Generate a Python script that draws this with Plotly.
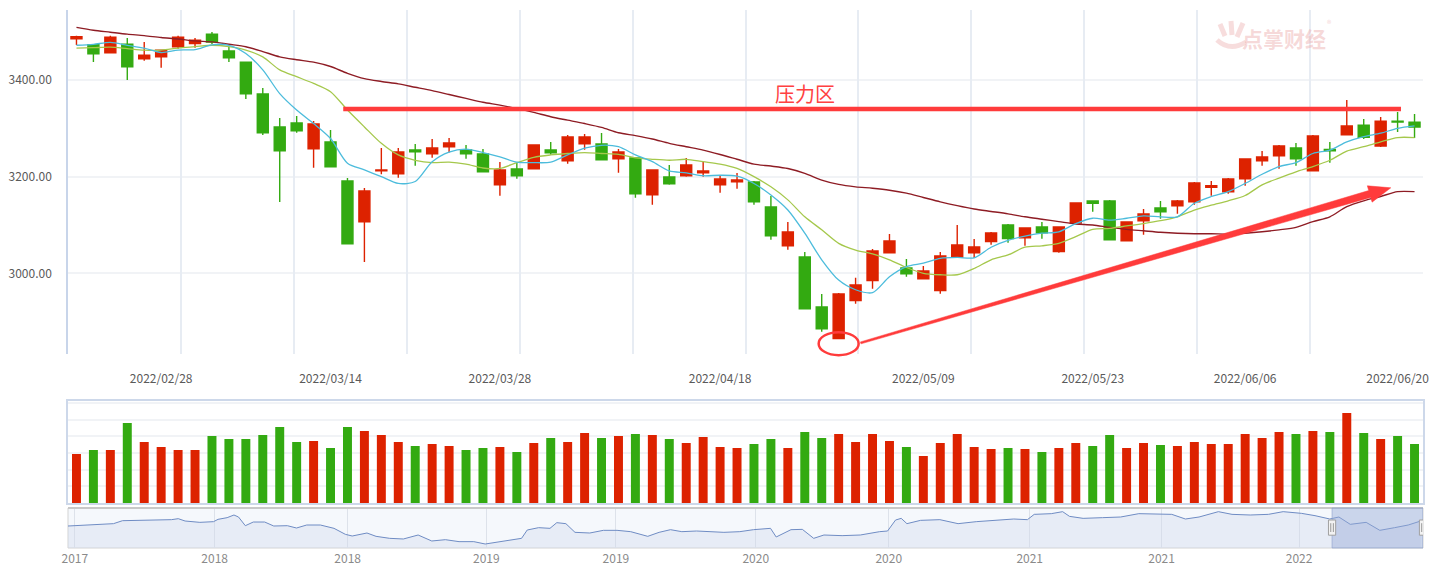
import plotly.graph_objects as go

# ---------------- data ----------------
open_ = [3485.5, 3473.1, 3456.5, 3474.4, 3444.1, 3448.2, 3468.9, 3475.8, 3495.1, 3460.0,
         3437.2, 3371.0, 3302.7, 3311.0, 3257.9, 3271.7, 3191.0, 3106.8, 3212.4, 3206.2,
         3255.1, 3247.5, 3262.0, 3255.1, 3246.8, 3183.4, 3215.8, 3216.5, 3255.1, 3233.1,
         3268.2, 3267.5, 3237.2, 3238.6, 3162.7, 3199.3, 3202.0, 3208.2, 3183.4, 3189.6,
         3188.9, 3137.2, 3057.2, 3033.7, 2930.3, 2864.8, 2943.4, 2984.8, 3042.7, 3011.0,
         2988.9, 2964.1, 3033.7, 3042.7, 3065.5, 3099.9, 3073.7, 3095.8, 3044.8, 3104.1,
         3149.6, 3149.6, 3067.5, 3108.9, 3135.1, 3139.9, 3148.2, 3177.9, 3168.9, 3195.8,
         3233.1, 3243.4, 3259.3, 3212.4, 3256.5, 3286.8, 3306.8, 3263.4, 3315.1, 3313.0]
high = [3491.7, 3474.4, 3491.7, 3486.9, 3478.6, 3463.4, 3491.7, 3486.9, 3499.3, 3468.9,
        3438.6, 3383.4, 3321.3, 3325.5, 3315.1, 3296.5, 3197.2, 3176.5, 3259.3, 3259.3,
        3267.5, 3277.9, 3280.0, 3265.5, 3257.2, 3230.3, 3228.9, 3265.5, 3271.7, 3286.2,
        3288.2, 3290.3, 3257.2, 3238.6, 3213.7, 3224.1, 3238.6, 3230.3, 3203.4, 3207.5,
        3191.0, 3160.0, 3106.1, 3044.1, 2957.2, 2959.2, 2991.0, 3050.3, 3081.3, 3029.6,
        3015.1, 3044.1, 3099.9, 3071.0, 3085.5, 3102.0, 3093.7, 3106.1, 3095.8, 3145.5,
        3149.6, 3151.7, 3106.1, 3133.0, 3149.6, 3151.7, 3188.9, 3191.0, 3197.2, 3236.5,
        3253.0, 3265.5, 3269.6, 3286.2, 3271.7, 3358.6, 3319.3, 3323.4, 3333.7, 3329.6]
low = [3472.4, 3437.2, 3456.5, 3400.0, 3440.0, 3425.5, 3464.8, 3466.9, 3474.4, 3437.2,
       3360.6, 3286.2, 3147.5, 3291.0, 3218.6, 3220.6, 3061.3, 3023.4, 3204.8, 3197.9,
       3222.7, 3239.3, 3250.3, 3237.2, 3210.3, 3160.6, 3195.8, 3216.5, 3245.5, 3226.8,
       3255.8, 3235.1, 3208.2, 3156.5, 3142.0, 3183.4, 3199.9, 3199.9, 3166.8, 3175.1,
       3142.0, 3069.6, 3048.9, 2926.8, 2879.2, 2864.8, 2937.2, 2968.2, 3042.7, 2993.0,
       2988.9, 2957.9, 3033.7, 3031.7, 3059.3, 3063.4, 3057.2, 3071.7, 3042.7, 3104.1,
       3127.5, 3069.6, 3067.5, 3080.0, 3113.0, 3123.4, 3142.0, 3160.6, 3164.8, 3181.3,
       3222.7, 3216.5, 3222.7, 3212.4, 3228.9, 3286.8, 3277.9, 3261.3, 3292.4, 3280.0]
close = [3489.6, 3454.4, 3488.9, 3427.5, 3451.7, 3462.0, 3488.9, 3482.7, 3478.6, 3446.2,
         3371.7, 3291.0, 3253.8, 3295.1, 3308.9, 3220.6, 3061.3, 3170.3, 3213.7, 3251.0,
         3251.7, 3259.3, 3269.6, 3247.5, 3210.3, 3213.7, 3202.0, 3265.5, 3249.6, 3282.0,
         3282.0, 3235.1, 3251.0, 3164.8, 3213.7, 3185.5, 3224.1, 3211.7, 3195.1, 3193.0,
         3148.2, 3077.9, 3085.5, 2926.8, 2885.4, 2957.2, 2975.8, 3046.1, 3066.8, 2999.2,
         3004.8, 3035.8, 3058.6, 3054.4, 3083.4, 3071.7, 3093.7, 3084.1, 3095.8, 3145.5,
         3144.8, 3069.6, 3106.1, 3122.7, 3127.5, 3149.6, 3186.8, 3181.3, 3195.1, 3236.5,
         3240.6, 3263.4, 3237.2, 3284.1, 3253.8, 3304.8, 3281.3, 3315.1, 3313.0, 3302.7]
ma5 = [3472, 3474, 3478, 3472, 3466, 3457, 3462, 3463, 3473, 3472,
       3455, 3421, 3372, 3338, 3310, 3279, 3228, 3214, 3200, 3186,
       3190, 3231, 3251, 3257, 3250, 3241, 3230, 3229, 3230, 3245,
       3259, 3265, 3262, 3245, 3231, 3212, 3208, 3202, 3203, 3201,
       3186, 3162, 3131, 3083, 3028, 2986, 2966, 2960, 2993, 3014,
       3021, 3031, 3033, 3032, 3054, 3068, 3077, 3083, 3086, 3103,
       3114, 3110, 3114, 3119, 3117, 3117, 3145, 3159, 3169, 3186,
       3205, 3221, 3229, 3248, 3255, 3272, 3283, 3290, 3300, 3305]
ma10 = [3466, 3467, 3468, 3465, 3462, 3462, 3466, 3469, 3472, 3469,
        3462, 3448, 3421, 3407, 3393, 3376, 3338, 3303, 3269, 3245,
        3234, 3229, 3230, 3226, 3218, 3217, 3229, 3240, 3245, 3248,
        3250, 3248, 3246, 3239, 3236, 3234, 3236, 3231, 3226, 3217,
        3200, 3179, 3152, 3117, 3090, 3062, 3048, 3040, 3028, 3012,
        3000, 2997, 2997, 3010, 3028, 3038, 3054, 3057, 3062, 3076,
        3091, 3093, 3098, 3103, 3109, 3117, 3131, 3141, 3150, 3161,
        3183, 3197, 3210, 3221, 3234, 3253, 3262, 3272, 3281, 3281]
ma60 = [3509, 3503, 3499, 3495, 3492, 3488, 3485, 3481, 3479, 3474,
        3469, 3459, 3448, 3442, 3437, 3428, 3414, 3403, 3397, 3392,
        3385, 3378, 3370, 3362, 3354, 3348, 3341, 3333, 3324, 3317,
        3310, 3302, 3291, 3285, 3278, 3269, 3262, 3255, 3246, 3236,
        3226, 3222, 3217, 3207, 3193, 3184, 3179, 3176, 3172, 3166,
        3157, 3148, 3140, 3133, 3128, 3123, 3117, 3112, 3107, 3102,
        3100, 3095, 3091, 3088, 3085, 3083, 3082, 3082, 3081, 3083,
        3086, 3090, 3095, 3107, 3117, 3138, 3150, 3159, 3169, 3169]
volume = [2940, 3180, 3180, 4800, 3660, 3360, 3180, 3180, 4020, 3840,
          3840, 4080, 4560, 3660, 3720, 3300, 4560, 4320, 4080, 3660,
          3420, 3540, 3420, 3180, 3300, 3360, 3060, 3600, 3900, 3660,
          4200, 3900, 4020, 4140, 4080, 3840, 3600, 3960, 3360, 3300,
          3540, 3840, 3300, 4260, 3900, 4140, 3660, 4140, 3720, 3360,
          2820, 3600, 4140, 3360, 3240, 3300, 3240, 3060, 3300, 3600,
          3420, 4080, 3300, 3600, 3480, 3420, 3660, 3540, 3540, 4140,
          3900, 4260, 4140, 4320, 4260, 5400, 4200, 3840, 4020, 3540]
tick_idx = [5, 15, 25, 38, 50, 60, 69, 78]
tick_labels = ['2022/02/28', '2022/03/14', '2022/03/28', '2022/04/18',
               '2022/05/09', '2022/05/23', '2022/06/06', '2022/06/20']

# overview (data-zoom) series: trading-day index and close
nav_idx = [0, 14, 30, 40, 48, 63, 71, 79, 91, 97, 103, 116, 128, 132, 140, 146, 150, 156, 163,
           173, 181, 193, 201, 210, 222, 234, 244, 250, 263, 271, 283, 295, 308, 320, 332, 344,
           357, 367, 377, 389, 399, 404, 414, 424, 430, 438, 446, 459, 471, 483, 495, 510, 520,
           530, 540, 553, 565, 577, 591, 603, 618, 623, 636, 646, 656, 665, 681, 697, 714, 721,
           728, 733, 738, 750, 767, 783, 799, 816, 832, 844, 850, 865, 875, 881, 893, 910, 926,
           942, 958, 971, 983, 995, 1012, 1024, 1040, 1056, 1069, 1085, 1097, 1110, 1118, 1128,
           1142, 1154, 1167, 1179, 1190]
nav_close = [3152, 3192, 3245, 3245, 3363, 3376, 3363, 3389, 3403, 3442, 3350, 3297, 3324, 3416,
             3482, 3587, 3508, 3165, 3310, 3310, 3152, 3165, 3073, 3192, 3192, 3060, 2823, 2757,
             2876, 2744, 2665, 2639, 2797, 2560, 2612, 2534, 2534, 2441, 2520, 2586, 2665, 2994,
             3087, 3060, 3284, 3245, 2902, 2876, 2981, 2981, 2929, 2744, 2902, 3007, 2929, 2955,
             2929, 2902, 2929, 3007, 3060, 2718, 3007, 3020, 2665, 2797, 2771, 2797, 2929, 2955,
             3389, 3455, 3245, 3376, 3403, 3245, 3324, 3376, 3429, 3403, 3613, 3640, 3719, 3534,
             3455, 3482, 3508, 3640, 3613, 3613, 3429, 3508, 3719, 3613, 3587, 3613, 3719, 3653,
             3561, 3429, 3508, 3218, 3297, 2981, 3087, 3192, 3350]
nav_total = 1192
nav_window = [1112, 1192]
nav_tick_idx = [6, 129, 246, 368, 482, 605, 722, 846, 962, 1083]
nav_tick_labels = ['2017', '2018', '2018', '2019', '2019', '2020', '2020', '2021', '2021', '2022']

pressure_level = 3340
pressure_span = [15.75, 78.2]
pressure_label = '压力区'
arrow_tail = (46.3, 2856)
arrow_tip = (77.6, 3177)
low_mark_idx = 45

# ---------------- layout constants ----------------
W, H = 1456, 568
ML, MR = 68, 33
PW = W - ML - MR
RED = '#dd2200'
GREEN = '#33aa11'
FONT = 'Noto Sans CJK SC, Noto Sans, sans-serif'

n = len(close)
idx = list(range(n))
X_RANGE = [-0.5, n - 0.5]
Y_RANGE = [2833, 3545]
YD_MAIN = [1 - 354 / H, 1 - 10 / H]
YD_VOL = [1 - 503 / H, 1 - 401 / H]
YD_NAV = [1 - 548 / H, 1 - 508 / H]


def px_x(x):
    return ML + (x - X_RANGE[0]) / (X_RANGE[1] - X_RANGE[0]) * PW


def px_y(v):
    f = (v - Y_RANGE[0]) / (Y_RANGE[1] - Y_RANGE[0])
    return H * (1 - (YD_MAIN[0] + f * (YD_MAIN[1] - YD_MAIN[0])))


def paper(px, py):
    return (px - ML) / PW, 1 - py / H


fig = go.Figure()

# vertical grid helper axis (dummy trace so the overlay exists)
fig.add_trace(go.Scatter(x=[None], y=[None], xaxis='x3', yaxis='y', showlegend=False,
                         hoverinfo='skip'))

fig.add_trace(go.Candlestick(
    x=idx, open=open_, high=high, low=low, close=close,
    increasing=dict(line=dict(color=RED, width=1.4), fillcolor=RED),
    decreasing=dict(line=dict(color=GREEN, width=1.4), fillcolor=GREEN),
    whiskerwidth=0, showlegend=False, xaxis='x', yaxis='y'))

for vals, col, w in [(ma60, '#8e1c24', 1.4), (ma10, '#a5c84c', 1.3), (ma5, '#4cbcdc', 1.3)]:
    fig.add_trace(go.Scatter(x=idx, y=vals, mode='lines',
                             line=dict(color=col, width=w, shape='spline', smoothing=0.8),
                             showlegend=False, hoverinfo='skip', xaxis='x', yaxis='y'))

vol_colors = [RED if c >= o else GREEN for o, c in zip(open_, close)]
fig.add_trace(go.Bar(x=idx, y=volume, marker=dict(color=vol_colors, line=dict(width=0)),
                     width=0.53, showlegend=False, xaxis='x2', yaxis='y2'))

fig.add_trace(go.Scatter(x=nav_idx, y=nav_close, mode='lines',
                         line=dict(color='#6f8cc4', width=1),
                         fill='tozeroy', fillcolor='rgba(205,216,236,0.35)',
                         showlegend=False, hoverinfo='skip', xaxis='x4', yaxis='y3'))

shapes = []
# navigator background box
shapes.append(dict(type='rect', xref='x4 domain', yref='y3 domain', x0=0, x1=1, y0=0, y1=1,
                   fillcolor='#f5f8fc', line=dict(color='#d3d3d3', width=1), layer='below'))
shapes.append(dict(type='line', xref='x4 domain', yref='y3 domain', x0=0, x1=1, y0=1, y1=1,
                   line=dict(color='#c8c8c8', width=2)))
# selected window
shapes.append(dict(type='rect', xref='x4', yref='y3 domain', x0=nav_window[0], x1=nav_window[1],
                   y0=0, y1=1, fillcolor='rgba(150,170,215,0.45)',
                   line=dict(color='rgba(140,160,205,0.6)', width=1)))
hw = 3.6 * nav_total / PW
for xe in nav_window:
    shapes.append(dict(type='rect', xref='x4', yref='y3 domain', x0=xe - hw, x1=xe + hw,
                       y0=0.32, y1=0.70, fillcolor='#f2f2f2', line=dict(color='#a0a0a0', width=1)))
    for dx in (-1.3, 1.3):
        xx = xe + dx * nav_total / PW
        shapes.append(dict(type='line', xref='x4', yref='y3 domain', x0=xx, x1=xx,
                           y0=0.40, y1=0.62, line=dict(color='#999999', width=1)))

# pressure line
shapes.append(dict(type='line', xref='x', yref='y', x0=pressure_span[0], x1=pressure_span[1],
                   y0=pressure_level, y1=pressure_level, line=dict(color='#ff3b3b', width=4.5)))

# ellipse around the low
cx, cy = px_x(low_mark_idx), px_y(low[low_mark_idx]) + 5
x0p, y0p = paper(cx - 20, cy + 11.5)
x1p, y1p = paper(cx + 20, cy - 11.5)
shapes.append(dict(type='circle', xref='paper', yref='paper', x0=x0p, x1=x1p, y0=y0p, y1=y1p,
                   line=dict(color='#ff3b3b', width=2.5)))

# tapered arrow
tx, ty = px_x(arrow_tail[0]), px_y(arrow_tail[1])
hx, hy = px_x(arrow_tip[0]), px_y(arrow_tip[1])
L = ((hx - tx) ** 2 + (hy - ty) ** 2) ** 0.5
ux, uy = (hx - tx) / L, (hy - ty) / L
nx, ny = -uy, ux
bx, by = hx - 22 * ux, hy - 22 * uy
pts = [(tx + nx * 1.0, ty + ny * 1.0), (bx + nx * 3.6, by + ny * 3.6), (bx + nx * 8.5, by + ny * 8.5),
       (hx, hy), (bx - nx * 8.5, by - ny * 8.5), (bx - nx * 3.6, by - ny * 3.6),
       (tx - nx * 1.0, ty - ny * 1.0)]
path = 'M ' + ' L '.join('%.5f,%.5f' % paper(px, py) for px, py in pts) + ' Z'
shapes.append(dict(type='path', xref='paper', yref='paper', path=path,
                   fillcolor='#ff3b3b', line=dict(color='#ff3b3b', width=0.5)))

# faint watermark logo (simplified hand mark)
LOGO = 'rgba(236,170,170,0.40)'
for (a, b) in [((1220, 24), (1225, 36)), ((1231, 21), (1232, 35)), ((1243, 23), (1237, 37))]:
    pa, pb = paper(*a), paper(*b)
    shapes.append(dict(type='line', xref='paper', yref='paper', x0=pa[0], y0=pa[1], x1=pb[0], y1=pb[1],
                       line=dict(color=LOGO, width=5)))
p1, p2, p3 = paper(1217, 40), paper(1230, 52), paper(1246, 42)
shapes.append(dict(type='path', xref='paper', yref='paper',
                   path='M %.5f,%.5f Q %.5f,%.5f %.5f,%.5f' % (p1[0], p1[1], p2[0], p2[1], p3[0], p3[1]),
                   line=dict(color=LOGO, width=5)))

annotations = [
    dict(x=43, y=pressure_level, xref='x', yref='y', text=pressure_label, showarrow=False,
         xanchor='center', yshift=16, font=dict(family=FONT, size=20, color='#ff4141')),
]
wx, wy = paper(1284, 38)
annotations.append(dict(x=wx, y=wy, xref='paper', yref='paper', text='<b>点掌财经</b>',
                        xanchor='center', yanchor='middle', showarrow=False,
                        font=dict(family=FONT, size=21, color='rgba(236,170,170,0.45)')))
rx_, ry_ = paper(1329, 24)
annotations.append(dict(x=rx_, y=ry_, xref='paper', yref='paper', text='®', showarrow=False,
                        xanchor='center', yanchor='middle',
                        font=dict(family=FONT, size=9, color='rgba(236,170,170,0.5)')))

tickfont = dict(family=FONT, size=12, color='#5a5a5a')
fig.update_layout(
    width=W, height=H, margin=dict(l=ML, r=MR, t=0, b=0),
    paper_bgcolor='white', plot_bgcolor='white', showlegend=False,
    boxgap=0.35, boxgroupgap=0,
    shapes=shapes, annotations=annotations,
    xaxis=dict(domain=[0, 1], range=X_RANGE, anchor='y', rangeslider=dict(visible=False),
               tickmode='array', tickvals=tick_idx, ticktext=tick_labels, ticks='',
               showgrid=False, showline=False, zeroline=False, tickfont=tickfont,
               ticklabelstandoff=16),
    xaxis3=dict(overlaying='x', anchor='y', range=[0, 12], dtick=1, showgrid=True,
                gridcolor='#e7ecf3', gridwidth=2, showticklabels=False, ticks='',
                zeroline=False, showline=False),
    yaxis=dict(domain=YD_MAIN, range=Y_RANGE, anchor='x', dtick=200, tick0=0, tickformat='.2f',
               ticks='', showgrid=True, gridcolor='#f1f3f6', gridwidth=2, zeroline=False,
               showline=True, linecolor='#c8d5ea', linewidth=1.5, tickfont=tickfont,
               ticklabelstandoff=12),
    xaxis2=dict(domain=[0, 1], range=X_RANGE, anchor='y2', matches='x', showticklabels=False,
                ticks='', showgrid=False, zeroline=False, showline=True, mirror=True,
                linecolor='#cdd8ea', linewidth=1.5),
    yaxis2=dict(domain=YD_VOL, range=[0, 6120], anchor='x2', dtick=1000, showticklabels=False,
                ticks='', showgrid=True, gridcolor='#f1f3f6', gridwidth=2, zeroline=False,
                showline=True, mirror=True, linecolor='#cdd8ea', linewidth=1.5),
    xaxis4=dict(domain=[0, 1], range=[0, nav_total], anchor='y3', tickmode='array',
                tickvals=nav_tick_idx, ticktext=nav_tick_labels, ticks='', showgrid=True,
                gridcolor='#dde2ea', gridwidth=1, zeroline=False, showline=False,
                tickfont=dict(family=FONT, size=12, color='#8a8a8a'), ticklabelstandoff=2),
    yaxis3=dict(domain=YD_NAV, range=[2283, 3864], anchor='x4', showticklabels=False,
                ticks='', showgrid=False, zeroline=False, showline=False),
)

fig.write_html('out.html')
